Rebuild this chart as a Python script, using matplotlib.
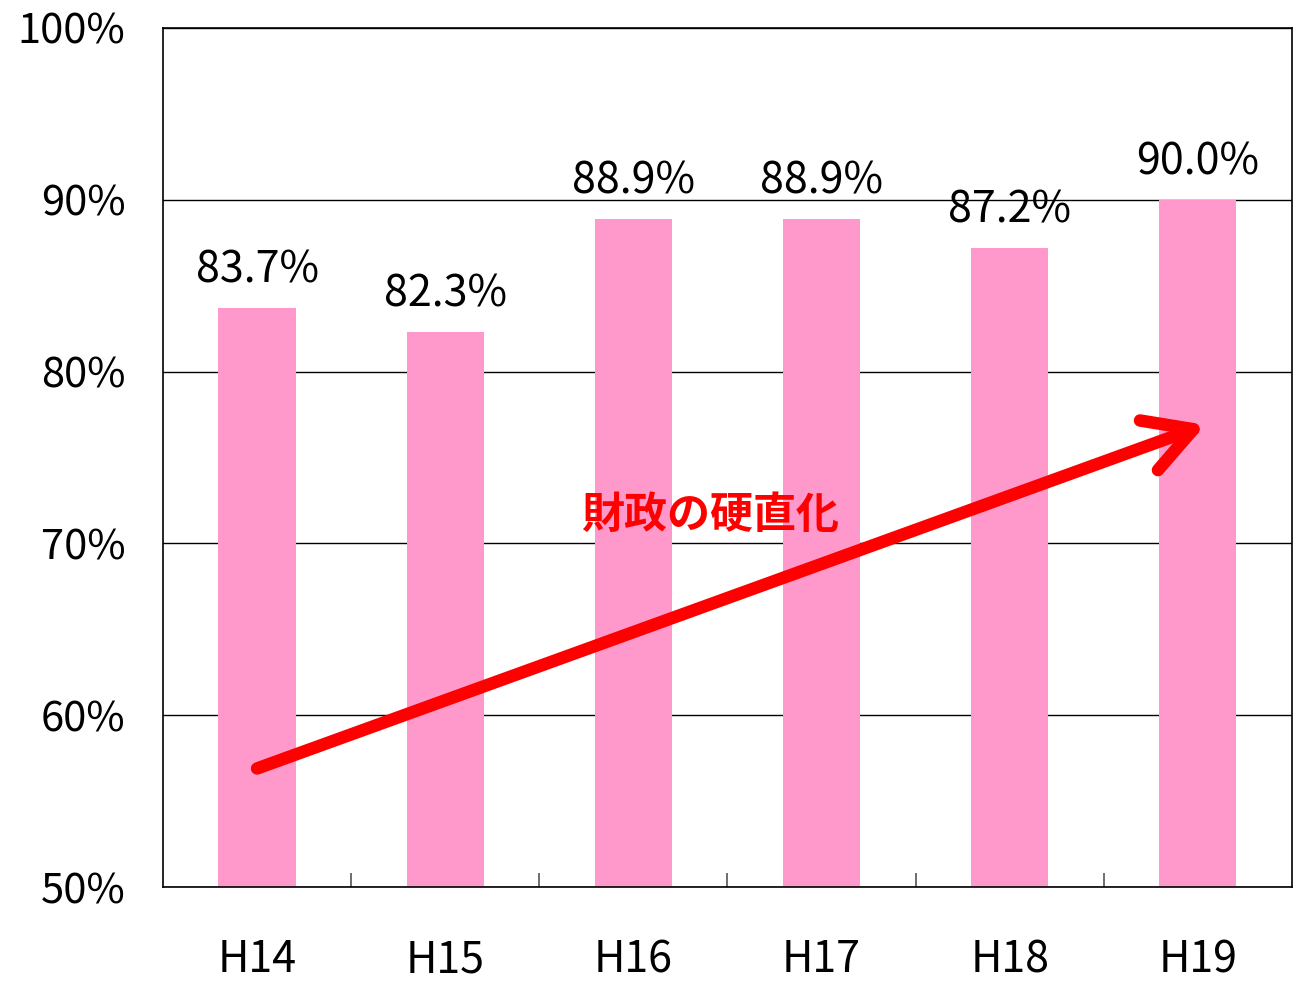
import matplotlib
matplotlib.use("Agg")
import matplotlib.pyplot as plt
from matplotlib.ticker import FixedLocator

plt.rcParams["font.family"] = ["Noto Sans CJK JP", "DejaVu Sans"]

years = ["H14", "H15", "H16", "H17", "H18", "H19"]
ratios = [83.7, 82.3, 88.9, 88.9, 87.2, 90.0]
y_ticks = [50, 60, 70, 80, 90, 100]
arrow_label = "財政の硬直化"
trend_start = 56.9
trend_end = 76.9

fig = plt.figure(figsize=(13.07, 9.81), dpi=100)
ax = fig.add_axes([0.1247, 0.0958, 0.8638, 0.8757])

x = list(range(len(years)))
ax.bar(x, ratios, width=0.41, color="#FF99CC", zorder=2)

for xi, v in zip(x, ratios):
    ax.text(xi, v + 0.9, f"{v:.1f}%", ha="center", va="bottom", fontsize=31)

ax.set_xlim(-0.5, len(years) - 0.5)
ax.set_ylim(50, 100)
ax.set_yticks(y_ticks)
ax.set_yticklabels([f"{t}%" for t in y_ticks], fontsize=30)
ax.tick_params(axis="y", length=0, pad=27)
ax.yaxis.grid(True, color="black", linewidth=1.0, zorder=1)
ax.set_axisbelow(True)

ax.set_xticks(x)
ax.set_xticklabels(years, fontsize=31)
ax.tick_params(axis="x", which="major", length=0, pad=37)
ax.xaxis.set_minor_locator(FixedLocator([i + 0.5 for i in range(len(years) - 1)]))
ax.tick_params(axis="x", which="minor", direction="in", length=10, color="#555555", width=1.2)

for s in ax.spines.values():
    s.set_linewidth(1.2)

ax.annotate("", xy=(5.04, trend_end), xytext=(0.0, trend_start),
            arrowprops=dict(arrowstyle="->,head_length=3.4,head_width=1.9",
                            color="red", linewidth=9, capstyle="round",
                            joinstyle="round", shrinkA=0, shrinkB=0),
            zorder=4)
ax.text(2.41, 71.65, arrow_label, color="red", fontsize=31, fontweight="bold",
        ha="center", va="center", zorder=5)

fig.savefig("out.png", dpi=100)
